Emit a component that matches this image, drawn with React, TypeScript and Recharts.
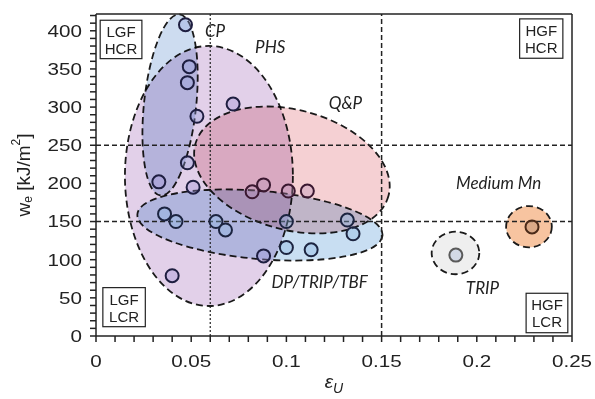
// Toughness map: w_e vs uniform elongation, with steel-family regions drawn as ellipses

import React from 'react';
import { ReferenceArea, ReferenceDot, ReferenceLine, Scatter, ScatterChart, XAxis, YAxis } from 'recharts';

// points (eps_u, w_e in kJ/m2)
const cpPoints = [
  { x: 0.047, y: 408 },
  { x: 0.049, y: 353 },
  { x: 0.048, y: 332 },
  { x: 0.053, y: 288 },
  { x: 0.048, y: 227 },
];
const phsPoints = [
  { x: 0.072, y: 304 },
  { x: 0.033, y: 202 },
  { x: 0.051, y: 195 },
  { x: 0.04, y: 79 },
  { x: 0.088, y: 105 },
];
const qpPoints = [
  { x: 0.088, y: 198 },
  { x: 0.082, y: 189 },
  { x: 0.101, y: 190 },
  { x: 0.111, y: 190 },
];
const dpPoints = [
  { x: 0.036, y: 160 },
  { x: 0.042, y: 150 },
  { x: 0.063, y: 150 },
  { x: 0.068, y: 139 },
  { x: 0.1, y: 150 },
  { x: 0.132, y: 152 },
  { x: 0.135, y: 134 },
  { x: 0.1, y: 116 },
  { x: 0.113, y: 113 },
];
const tripPoints = [{ x: 0.189, y: 106 }];
const mnPoints = [{ x: 0.229, y: 143 }];

// family regions: centre, half-axes (data units), tilt in degrees
const regions = [
  { name: 'PHS', cx: 0.0593, cy: 209.7, rx: 0.0441, ry: 170.4, angle: 0, fill: '#e2d0e9' },
  { name: 'CP', cx: 0.0389, cy: 302.8, rx: 0.0137, ry: 119.3, angle: 6, fill: '#cddcf0' },
  { name: 'Q&P', cx: 0.1029, cy: 217.6, rx: 0.0525, ry: 78.6, angle: 15, fill: '#f5d0d3' },
  { name: 'DP/TRIP/TBF', cx: 0.0861, cy: 145.5, rx: 0.0646, ry: 44.6, angle: 5, fill: '#c8def2' },
  { name: 'TRIP', cx: 0.1888, cy: 108.8, rx: 0.0125, ry: 27.9, angle: 0, fill: '#efefef' },
  { name: 'Medium Mn', cx: 0.2274, cy: 143.2, rx: 0.012, ry: 27.1, angle: 0, fill: '#f7c4a0' },
];

const regionLabels = [
  { text: 'CP', x: 0.0625, y: 401 },
  { text: 'PHS', x: 0.0915, y: 379 },
  { text: 'Q&P', x: 0.131, y: 306 },
  { text: 'Medium Mn', x: 0.2115, y: 201 },
  { text: 'TRIP', x: 0.203, y: 63 },
  { text: 'DP/TRIP/TBF', x: 0.1175, y: 71 },
];

const quadrantBoxes = [
  { lines: ['LGF', 'HCR'], x1: 0.0022, x2: 0.0241, y1: 363.5, y2: 413.8 },
  { lines: ['HGF', 'HCR'], x1: 0.2225, x2: 0.2452, y1: 364, y2: 415.6 },
  { lines: ['LGF', 'LCR'], x1: 0.0036, x2: 0.0259, y1: 12.2, y2: 63.4 },
  { lines: ['HGF', 'LCR'], x1: 0.2259, x2: 0.2478, y1: 4.3, y2: 56 },
];

const xTicks = [
  0, 0.01, 0.02, 0.03, 0.04, 0.05, 0.06, 0.07, 0.08, 0.09, 0.1, 0.11, 0.12, 0.13, 0.14, 0.15, 0.16,
  0.17, 0.18, 0.19, 0.2, 0.21, 0.22, 0.23, 0.24, 0.25,
];
const yTicks = [
  0, 10, 20, 30, 40, 50, 60, 70, 80, 90, 100, 110, 120, 130, 140, 150, 160, 170, 180, 190, 200, 210,
  220, 230, 240, 250, 260, 270, 280, 290, 300, 310, 320, 330, 340, 350, 360, 370, 380, 390, 400, 410,
  420,
];

const FONT = '"Liberation Sans", Arial, sans-serif';
const INK = '#222';

function XTick({ x, y, payload }: any) {
  const v = payload.value;
  if (Math.round(v * 100) % 5 !== 0) return null;
  return (
    <g transform={`translate(${x},${y}) scale(1.25,1)`}>
      <text textAnchor="middle" dy="0.71em" fontSize={16.5} fontFamily={FONT} fill={INK}>
        {String(Number(v.toFixed(2)))}
      </text>
    </g>
  );
}

function YTick({ x, y, payload }: any) {
  const v = payload.value;
  if (v % 50 !== 0) return null;
  return (
    <g transform={`translate(${x},${y}) scale(1.25,1)`}>
      <text textAnchor="end" dy="0.36em" fontSize={16.5} fontFamily={FONT} fill={INK}>
        {v}
      </text>
    </g>
  );
}

function EllipseShape({ x, y, width, height, angle, fill }: any) {
  const cx = x + width / 2;
  const cy = y + height / 2;
  return (
    <ellipse
      cx={cx}
      cy={cy}
      rx={Math.abs(width) / 2}
      ry={Math.abs(height) / 2}
      transform={`rotate(${angle} ${cx} ${cy})`}
      fill={fill}
      stroke="#1a1a1a"
      strokeWidth={1.8}
      strokeDasharray="7 4"
      style={{ mixBlendMode: 'multiply' }}
    />
  );
}

function BoxShape({ x, y, width, height, lines }: any) {
  const cx = x + width / 2;
  const cy = y + height / 2;
  return (
    <g>
      <rect x={x} y={y} width={width} height={height} fill="#fff" stroke={INK} strokeWidth={1.2} />
      <text x={cx} y={cy - 8} textAnchor="middle" dominantBaseline="central" fontSize={15} fontFamily={FONT} fill={INK}>
        {lines[0]}
      </text>
      <text x={cx} y={cy + 9} textAnchor="middle" dominantBaseline="central" fontSize={15} fontFamily={FONT} fill={INK}>
        {lines[1]}
      </text>
    </g>
  );
}

const dot = (fill: string, stroke: string, opacity = 0.35) => (p: any) => (
  <circle cx={p.cx} cy={p.cy} r={6.5} fill={fill} fillOpacity={opacity} stroke={stroke} strokeWidth={2} />
);

export default function App() {
  return (
    <div style={{ position: 'absolute', left: 0, top: 0, background: '#fff' }}>
      <ScatterChart width={595} height={399} margin={{ top: 14, right: 23, bottom: 0, left: 0 }}>
        <XAxis
          type="number"
          dataKey="x"
          domain={[0, 0.25]}
          ticks={xTicks}
          interval={0}
          allowDataOverflow
          height={63}
          tickSize={6}
          tickMargin={13}
          tick={<XTick />}
          stroke={INK}
          strokeWidth={1.5}
          label={(props: any) => {
            const vb = props.viewBox ?? { x: 96, y: 336, width: 476, height: 63 };
            return (
              <text x={vb.x + vb.width / 2} y={vb.y + 52} textAnchor="middle" fontFamily={FONT} fontSize={19} fill={INK} fontStyle="italic">
                ε
                <tspan fontSize={14} dy={5}>
                  U
                </tspan>
              </text>
            );
          }}
        />
        <YAxis
          type="number"
          dataKey="y"
          domain={[0, 422]}
          ticks={yTicks}
          interval={0}
          allowDataOverflow
          width={96}
          tickSize={6}
          tickMargin={8}
          tick={<YTick />}
          stroke={INK}
          strokeWidth={1.5}
          label={(props: any) => {
            const vb = props.viewBox ?? { x: 0, y: 14, width: 96, height: 322 };
            const cx = 23;
            const cy = vb.y + vb.height / 2;
            return (
              <text
                x={cx}
                y={cy}
                transform={`rotate(-90 ${cx} ${cy})`}
                textAnchor="middle"
                dominantBaseline="central"
                fontFamily={FONT}
                fontSize={19}
                fill={INK}
              >
                w
                <tspan fontSize={12} dy={5}>
                  e
                </tspan>
                <tspan dy={-5}> [kJ/m</tspan>
                <tspan fontSize={12} dy={-7}>
                  2
                </tspan>
                <tspan dy={7}>]</tspan>
              </text>
            );
          }}
        />

        {regions.map((r) => (
          <ReferenceArea
            key={r.name}
            x1={r.cx - r.rx}
            x2={r.cx + r.rx}
            y1={r.cy - r.ry}
            y2={r.cy + r.ry}
            ifOverflow="visible"
            shape={(p: any) => <EllipseShape {...p} angle={r.angle} fill={r.fill} />}
          />
        ))}

        <ReferenceLine y={250} stroke={INK} strokeWidth={1.5} strokeDasharray="5 3" />
        <ReferenceLine y={150} stroke={INK} strokeWidth={1.5} strokeDasharray="5 3" />
        <ReferenceLine x={0.15} stroke={INK} strokeWidth={1.5} strokeDasharray="5 3" />
        <ReferenceLine x={0.06} stroke={INK} strokeWidth={1.2} strokeDasharray="2 2" />
        <ReferenceLine y={422} stroke={INK} strokeWidth={1.5} />
        <ReferenceLine x={0.25} stroke={INK} strokeWidth={1.5} />

        {quadrantBoxes.map((b) => (
          <ReferenceArea
            key={b.lines.join('-') + b.x1}
            x1={b.x1}
            x2={b.x2}
            y1={b.y1}
            y2={b.y2}
            ifOverflow="visible"
            shape={(p: any) => <BoxShape {...p} lines={b.lines} />}
          />
        ))}

        <Scatter data={phsPoints} isAnimationActive={false} shape={dot('#9a8fd8', '#1e1e40')} />
        <Scatter data={cpPoints} isAnimationActive={false} shape={dot('#8f9fdc', '#1e1e40')} />
        <Scatter data={dpPoints} isAnimationActive={false} shape={dot('#86b4e2', '#1c2440')} />
        <Scatter data={qpPoints} isAnimationActive={false} shape={dot('#b88fb8', '#3a1830')} />
        <Scatter data={tripPoints} isAnimationActive={false} shape={dot('#cfd6e4', '#5a5a5a', 0.9)} />
        <Scatter data={mnPoints} isAnimationActive={false} shape={dot('#c89a78', '#4a2a18', 0.6)} />

        {regionLabels.map((l) => (
          <ReferenceDot
            key={l.text}
            x={l.x}
            y={l.y}
            r={0}
            ifOverflow="visible"
            shape={(p: any) => (
              <text
                x={p.cx}
                y={p.cy}
                textAnchor="middle"
                dominantBaseline="central"
                fontFamily="Lato, sans-serif"
                fontStyle="italic"
                fontSize={17}
                fill={INK}
              >
                {l.text}
              </text>
            )}
          />
        ))}
      </ScatterChart>
    </div>
  );
}
